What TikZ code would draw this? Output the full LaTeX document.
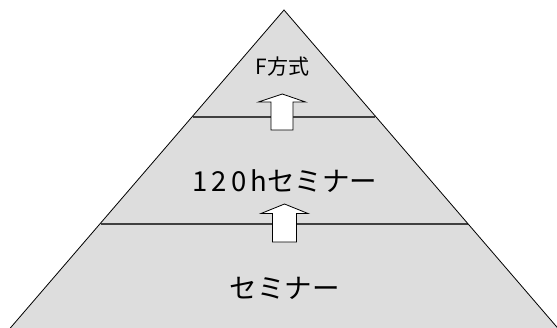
\documentclass[tikz,border=0pt]{standalone}
\usepackage{fontspec}
\newfontfamily\jp{Noto Sans CJK JP}
\newfontfamily\jpwide[LetterSpace=15]{Noto Sans CJK JP}
\definecolor{layerfill}{HTML}{DDDDDD}
\definecolor{divider}{HTML}{404040}
\tikzset{
  outline/.style={draw=black, line width=0.8pt},
  divline/.style={draw=divider, line width=1.5pt},
  uparrow/.style={draw=black, fill=white, line width=0.8pt, line join=miter},
  biglabel/.style={font=\jp\fontsize{27.5}{27.5}\selectfont, inner sep=0pt},
  smalllabel/.style={font=\jp\fontsize{21}{21}\selectfont, inner sep=0pt}
}
\begin{document}
\begin{tikzpicture}[x=1pt, y=-1pt]
\useasboundingbox (0,0) rectangle (557,327);
\clip (0,0) rectangle (557,327);
% pyramid
\coordinate (apex) at (284,10);
\coordinate (bl) at (8.6,330);
\coordinate (br) at (559.4,330);
\fill[layerfill] (apex) -- (bl) -- (br) -- cycle;
% dividers
\coordinate (d1l) at (193,117);
\coordinate (d1r) at (375,117);
\coordinate (d2l) at (100.5,224);
\coordinate (d2r) at (467.5,224);
\draw[divline] (d1l) -- (d1r);
\draw[divline] (d2l) -- (d2r);
\draw[outline] (bl) -- (apex) -- (br);
% arrows
\draw[uparrow] (282.3,94) -- (305.5,102) -- (293,102) -- (293,130) -- (271,130) -- (271,102) -- (258.5,102) -- cycle;
\draw[uparrow] (284.5,204) -- (308,213.5) -- (296.5,213.5) -- (296.5,242) -- (272.5,242) -- (272.5,213.5) -- (261,213.5) -- cycle;
% labels
\node[smalllabel] (top) at (282.5,66.5) {F方式};
\node[biglabel] (mid) at (285,181) {{\jpwide\fontsize{27.5}{27.5}\selectfont 120h}セミナー};
\node[biglabel] (bot) at (284.7,288.5) {セミナー};
\end{tikzpicture}
\end{document}
